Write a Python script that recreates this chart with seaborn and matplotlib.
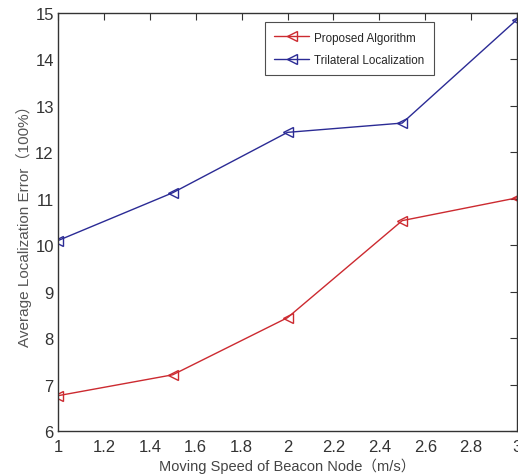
import pandas as pd
import seaborn as sns
import matplotlib.pyplot as plt

speed = [1, 1.5, 2, 2.5, 3]
proposed = [6.76, 7.21, 8.44, 10.53, 11.02]
trilateral = [10.1, 11.13, 12.43, 12.63, 14.86]
series_names = ['Proposed Algorithm', 'Trilateral Localization']

df = pd.DataFrame({'speed': speed * 2,
                   'error': proposed + trilateral,
                   'method': [series_names[0]] * 5 + [series_names[1]] * 5})

sns.set_style('white')
plt.rcParams['font.family'] = ['Liberation Sans', 'Noto Sans CJK SC']

fig = plt.figure(figsize=(5.18, 4.77), dpi=100)
ax = fig.add_axes([58 / 518, 45 / 477, 459 / 518, 418 / 477])

pal = {series_names[0]: '#cc2a30', series_names[1]: '#2b2b95'}
sns.lineplot(data=df, x='speed', y='error', hue='method', palette=pal, marker='<',
             markersize=7, markerfacecolor='none', linewidth=1, ax=ax, legend=False)
for ln, name in zip(ax.lines, series_names):
    ln.set_markeredgecolor(pal[name])
    ln.set_markeredgewidth(1)

ax.set_xlim(1, 3)
ax.set_ylim(6, 15)
ax.set_xticks([1, 1.2, 1.4, 1.6, 1.8, 2, 2.2, 2.4, 2.6, 2.8, 3])
ax.set_xticklabels(['1', '1.2', '1.4', '1.6', '1.8', '2', '2.2', '2.4', '2.6', '2.8', '3'])
ax.set_yticks(range(6, 16))
ax.tick_params(direction='in', length=5, width=0.8, labelsize=12, colors='#333333',
               top=True, right=True)
ax.tick_params(axis='x', pad=6)
ax.tick_params(axis='y', pad=3)
for s in ax.spines.values():
    s.set_color('#333333')
    s.set_linewidth(1)

ax.set_xlabel('Moving Speed of Beacon Node（m/s）', fontsize=10.5, labelpad=2, color='#444444')
ax.set_ylabel('Average Localization Error（100%）', fontsize=11, labelpad=2, color='#555555')

leg = ax.legend(handles=ax.lines[:2], labels=series_names, loc='upper left',
                bbox_to_anchor=(0.451, 0.978), borderaxespad=0, fontsize=8.4,
                frameon=True, fancybox=False, edgecolor='#222222', handlelength=3,
                borderpad=0.8, labelspacing=0.9, handletextpad=0.4)
leg.get_frame().set_linewidth(0.8)

fig.savefig('out.png', dpi=100)
